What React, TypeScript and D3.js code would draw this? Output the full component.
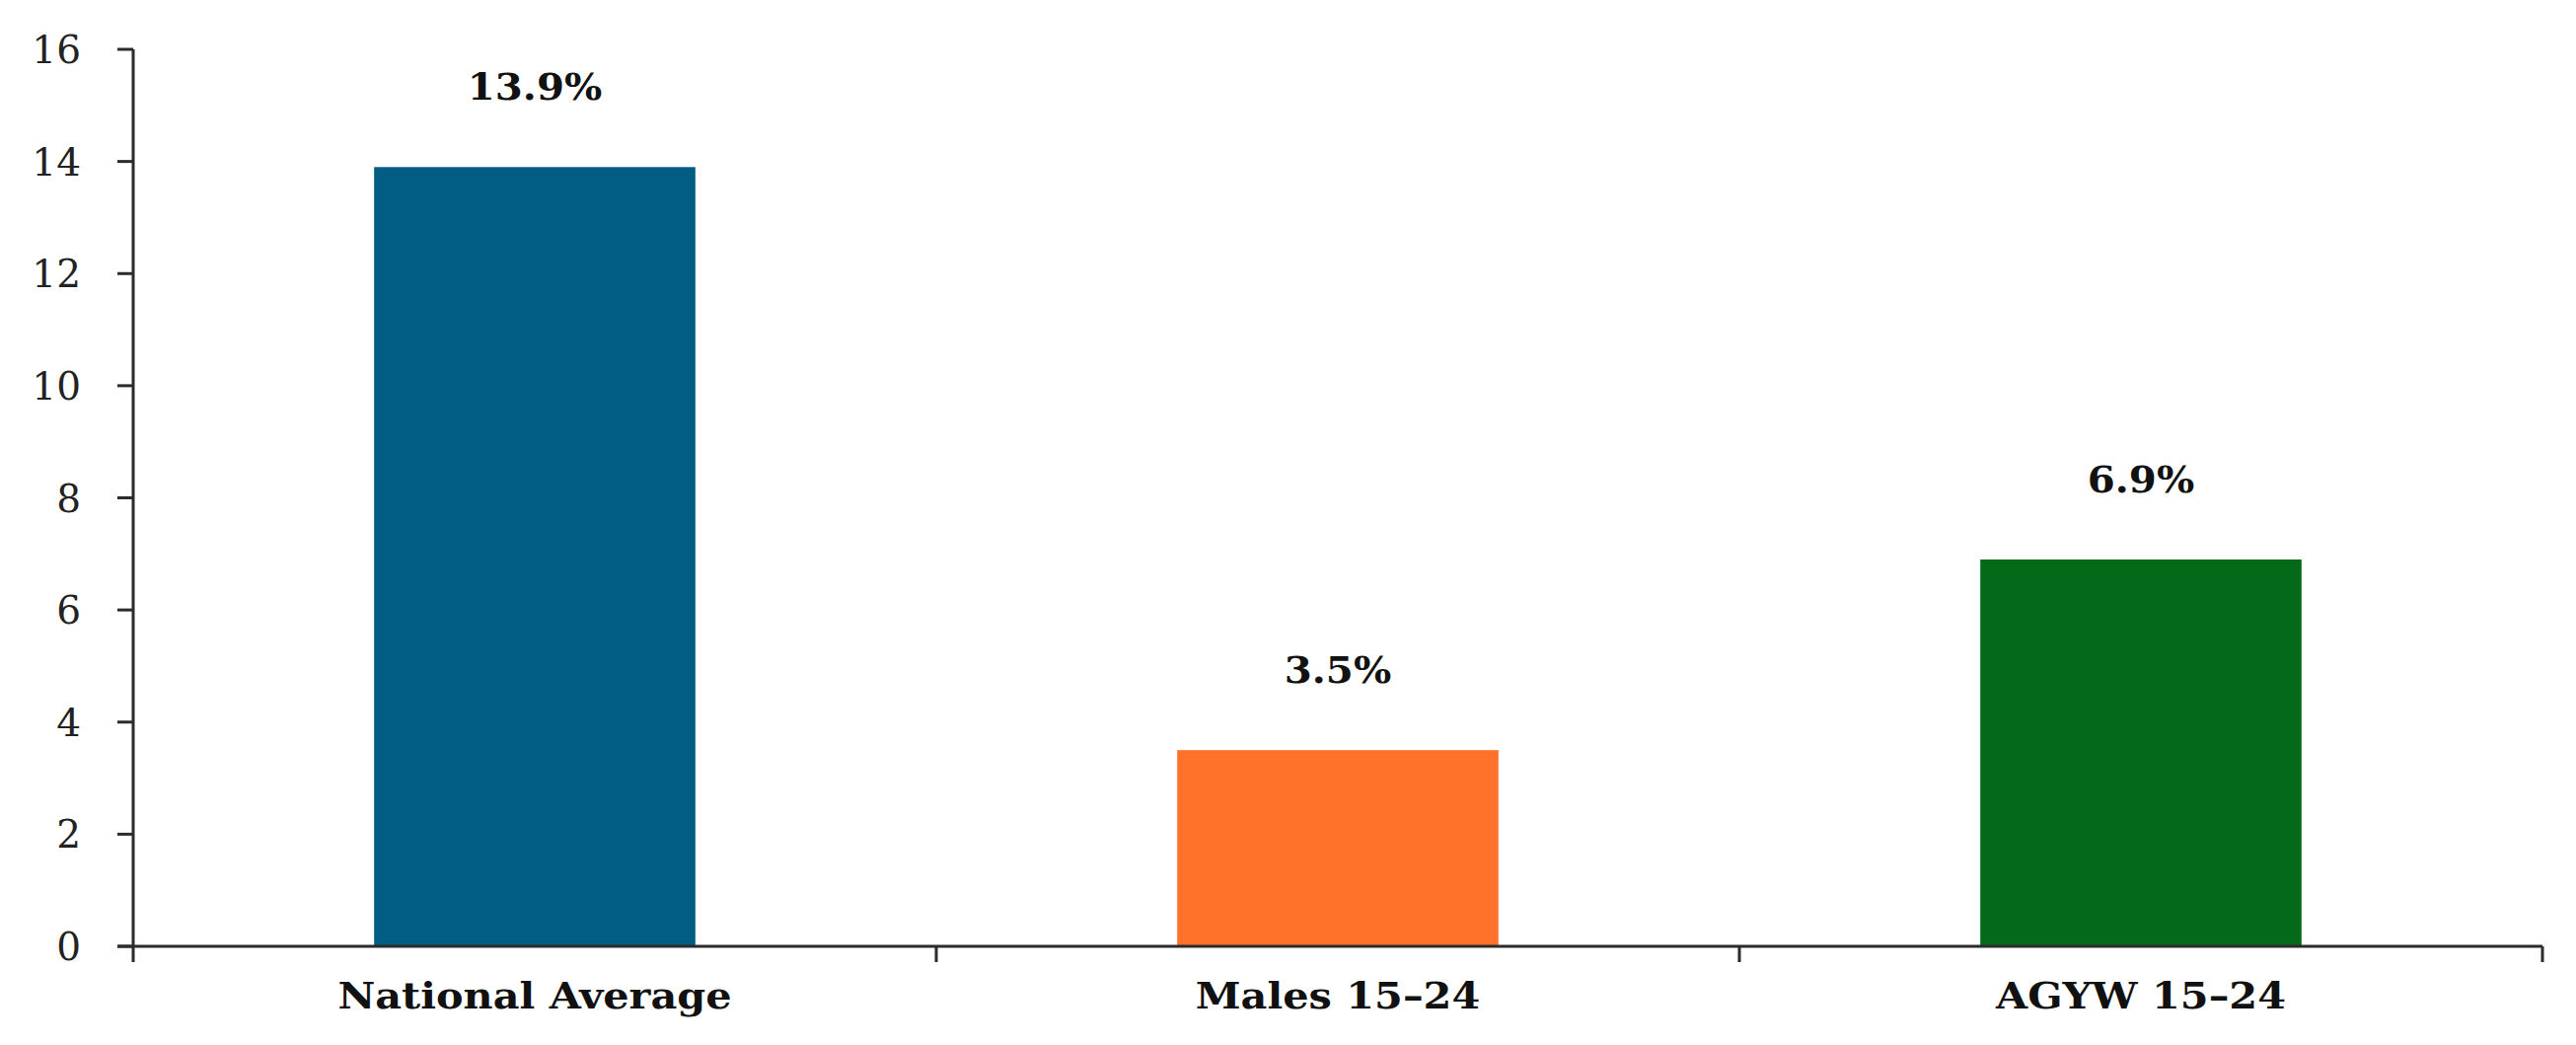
import React from "react";
import * as d3 from "d3";

const categories = ["National Average", "Males 15–24", "AGYW 15–24"];
const values = [13.9, 3.5, 6.9];
const valueLabels = ["13.9%", "3.5%", "6.9%"];
const barColors = ["#015d83", "#fe7229", "#05691a"];
const yTicks = [0, 2, 4, 6, 8, 10, 12, 14, 16];

const W = 2611;
const H = 1059;
const margin = { top: 50, right: 34, bottom: 100, left: 135 };
const FONT = "'DejaVu Serif', 'Liberation Serif', serif";

export default function App() {
  if (typeof document !== "undefined") document.body.style.margin = "0";
  const y = d3.scaleLinear().domain([0, 16]).range([H - margin.bottom, margin.top]);
  const x = d3.scaleBand<string>().domain(categories).range([margin.left, W - margin.right]).padding(0);
  const bw = x.bandwidth() * 0.4;
  const y0 = y(0);
  const tickLen = 16;
  const axisColor = "#2b2b2b";
  const boundaries = categories.slice(1).map((c) => x(c) as number).concat([W - margin.right]);

  return (
    <svg width={W} height={H} style={{ position: "absolute", left: 0, top: 0, background: "#fff" }}>
      <rect x={0} y={0} width={W} height={H} fill="#fff" />
      {categories.map((c, i) => {
        const cx = (x(c) as number) + x.bandwidth() / 2;
        return (
          <g key={c}>
            <rect x={cx - bw / 2} y={y(values[i])} width={bw} height={y0 - y(values[i])} fill={barColors[i]} />
            <text
              transform={`translate(${cx},${y(values[i]) - 68}) scale(1.09,1)`}
              textAnchor="middle"
              fontFamily={FONT}
              fontWeight="bold"
              fontSize={37}
              fill="#111"
            >
              {valueLabels[i]}
            </text>
            <text
              transform={`translate(${cx},1022) scale(1.12,1)`}
              textAnchor="middle"
              fontFamily={FONT}
              fontWeight="bold"
              fontSize={37}
              fill="#111"
            >
              {c}
            </text>
          </g>
        );
      })}
      {/* y axis */}
      <line x1={margin.left} x2={margin.left} y1={y(16)} y2={y0 + tickLen} stroke={axisColor} strokeWidth={3} />
      {yTicks.map((t) => (
        <g key={t}>
          <line x1={margin.left - tickLen} x2={margin.left} y1={y(t)} y2={y(t)} stroke={axisColor} strokeWidth={3} />
          <text x={margin.left - 53} y={y(t)} dy="0.36em" textAnchor="end" fontFamily={FONT} fontSize={39} fill="#222">
            {t}
          </text>
        </g>
      ))}
      {/* x axis */}
      <line x1={margin.left - tickLen} x2={W - margin.right} y1={y0} y2={y0} stroke={axisColor} strokeWidth={3} />
      {boundaries.map((bx, i) => (
        <line key={i} x1={bx} x2={bx} y1={y0} y2={y0 + tickLen} stroke={axisColor} strokeWidth={3} />
      ))}
    </svg>
  );
}
